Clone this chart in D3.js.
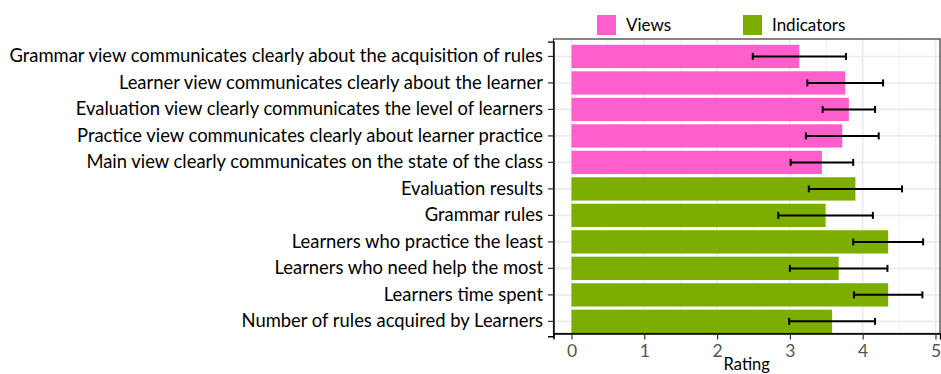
<!DOCTYPE html>
<html>
<head>
<meta charset="utf-8">
<script src="https://cdn.jsdelivr.net/npm/d3@7"></script>
<style>
  body { margin: 0; background: #fff; }
  svg { display: block; font-family: Lato, 'DejaVu Sans', sans-serif; }
</style>
</head>
<body>
<div id="graf"></div>
<script>
// categories, top to bottom
const items = [
  'Grammar view communicates clearly about the acquisition of rules',
  'Learner view communicates clearly about the learner',
  'Evaluation view clearly communicates the level of learners ',
  'Practice view communicates clearly about learner practice',
  'Main view clearly communicates on the state of the class',
  'Evaluation results',
  'Grammar rules',
  'Learners who practice the least',
  'Learners who need help the most',
  'Learners time spent',
  'Number of rules acquired by Learners'
]
const groups = ['Views', 'Views', 'Views', 'Views', 'Views',
  'Indicators', 'Indicators', 'Indicators', 'Indicators', 'Indicators', 'Indicators']
const means = [3.13, 3.76, 3.81, 3.72, 3.44, 3.90, 3.49, 4.35, 3.67, 4.35, 3.58]
const sds = [0.64, 0.52, 0.36, 0.50, 0.43, 0.64, 0.65, 0.48, 0.67, 0.47, 0.59]
const legendKeys = ['Views', 'Indicators']
const xTicks = [0, 1, 2, 3, 4, 5]

const data = items.map((d, i) => ({ item: d, group: groups[i], mean: means[i], sd: sds[i] }))

const anchoTotal = 941
const altoTotal = 374
const panel = { left: 553.5, right: 940, top: 39, bottom: 333.5 }

const svg = d3.select('#graf')
  .append('svg')
  .attr('width', anchoTotal)
  .attr('height', altoTotal)

const x = d3.scaleLinear()
  .domain([-0.247, 5.062])
  .range([panel.left, panel.right])

const y = d3.scaleBand()
  .domain(items)
  .range([41.6, 336.2])
  .padding(0.12)

const color = d3.scaleOrdinal()
  .domain(legendKeys)
  .range(['#ff5fcc', '#7cae00'])

// grid
const grid = svg.append('g')
const minor = d3.range(0.5, 5, 1)
grid.selectAll('.minor').data(minor).enter().append('line')
  .attr('x1', d => x(d)).attr('x2', d => x(d))
  .attr('y1', panel.top).attr('y2', panel.bottom)
  .attr('stroke', '#f0f0f0').attr('stroke-width', 1)
grid.selectAll('.major').data(xTicks).enter().append('line')
  .attr('x1', d => x(d)).attr('x2', d => x(d))
  .attr('y1', panel.top).attr('y2', panel.bottom)
  .attr('stroke', '#ebebeb').attr('stroke-width', 1.6)
grid.selectAll('.hline').data(items).enter().append('line')
  .attr('x1', panel.left).attr('x2', panel.right)
  .attr('y1', d => y(d) + y.bandwidth() / 2).attr('y2', d => y(d) + y.bandwidth() / 2)
  .attr('stroke', '#ebebeb').attr('stroke-width', 1.6)

// bars
svg.append('g').selectAll('rect').data(data).enter().append('rect')
  .attr('x', x(0))
  .attr('y', d => y(d.item))
  .attr('width', d => x(d.mean) - x(0))
  .attr('height', y.bandwidth())
  .attr('fill', d => color(d.group))

// error bars
const eb = svg.append('g').attr('stroke', '#000').attr('stroke-width', 2)
data.forEach(d => {
  const cy = y(d.item) + y.bandwidth() / 2
  const lo = x(d.mean - d.sd)
  const hi = x(d.mean + d.sd)
  eb.append('line').attr('x1', lo).attr('x2', hi).attr('y1', cy).attr('y2', cy)
  eb.append('line').attr('x1', lo).attr('x2', lo).attr('y1', cy - 3.5).attr('y2', cy + 3.5)
  eb.append('line').attr('x1', hi).attr('x2', hi).attr('y1', cy - 3.5).attr('y2', cy + 3.5)
})

// panel border
svg.append('rect')
  .attr('x', panel.left).attr('y', panel.top)
  .attr('width', panel.right - panel.left).attr('height', panel.bottom - panel.top)
  .attr('fill', 'none').attr('stroke', '#333').attr('stroke-width', 1.2)

// axes
const xAxis = svg.append('g')
  .attr('transform', `translate(0, ${panel.bottom})`)
  .call(d3.axisBottom(x).tickValues(xTicks).tickSize(6).tickPadding(5).tickFormat(d3.format('d')))
xAxis.select('.domain').attr('stroke', '#000').attr('stroke-width', 1.4)
xAxis.selectAll('.tick line').attr('stroke', '#333').attr('stroke-width', 1.2)
xAxis.selectAll('text').attr('fill', '#555').style('font-size', '17.5px').style('font-family', 'Lato, sans-serif')

const yAxis = svg.append('g')
  .attr('transform', `translate(${panel.left}, 0)`)
  .call(d3.axisLeft(y).tickSize(5.5).tickPadding(5))
yAxis.select('.domain').attr('stroke', '#000').attr('stroke-width', 1.4)
yAxis.selectAll('.tick line').attr('stroke', '#333').attr('stroke-width', 1.2)
yAxis.selectAll('text').attr('fill', '#000').style('font-size', '18.4px').style('font-family', 'Lato, sans-serif')

svg.append('text')
  .attr('x', (panel.left + panel.right) / 2)
  .attr('y', 369.5)
  .attr('text-anchor', 'middle')
  .style('font-size', '16.5px')
  .text('Rating')

// legend
const legend = svg.append('g')
const legX = [597, 743]
legendKeys.forEach((k, i) => {
  legend.append('rect')
    .attr('x', legX[i]).attr('y', 15)
    .attr('width', 19).attr('height', 20)
    .attr('fill', color(k))
  legend.append('text')
    .attr('x', legX[i] + 29).attr('y', 31)
    .style('font-size', '17px')
    .text(k)
})
</script>
</body>
</html>
